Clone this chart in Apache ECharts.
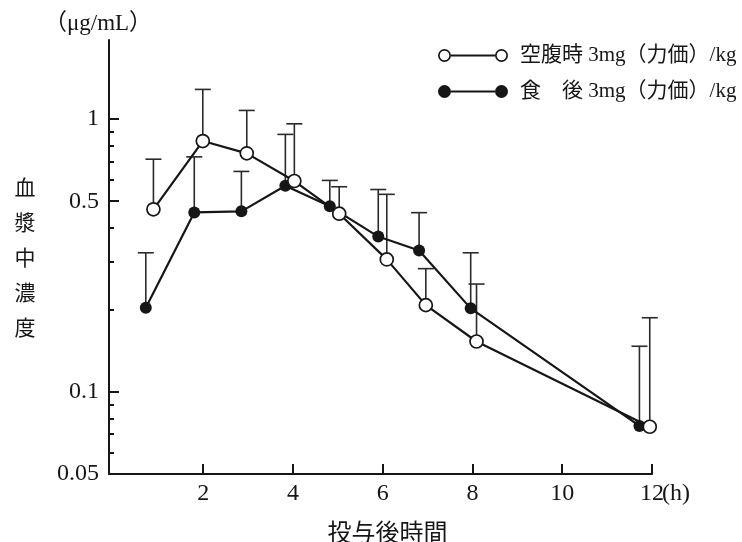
<!DOCTYPE html>
<html><head><meta charset="utf-8">
<script src="https://cdn.jsdelivr.net/npm/echarts@6/dist/echarts.min.js"></script>
<style>html,body{margin:0;padding:0;background:#fff}#c{width:742px;height:542px}</style>
</head><body><div id="c"></div>
<script>
// ---- data ----
const xTicks = [2, 4, 6, 8, 10, 12];
const yMajor = [0.05, 0.1, 0.5, 1];
const yMajorLabels = ['0.05', '0.1', '0.5', '1'];
const yMinor = [0.06, 0.07, 0.08, 0.09, 0.2, 0.3, 0.4, 0.6, 0.7, 0.8, 0.9];
const yMin = 0.05, yMax = 1.95, xMin = -0.1, xMax = 12;

const fastName = '空腹時 3mg（力価）/kg';
const fedName = '食\u3000後 3mg（力価）/kg';

const fastT  = [0.89, 1.99, 2.97, 4.03, 5.03, 6.09, 6.96, 8.09, 11.95];
const fastV  = [0.467, 0.831, 0.749, 0.593, 0.450, 0.306, 0.208, 0.153, 0.0745];
const fastUp = [0.713, 1.285, 1.076, 0.961, 0.565, 0.530, 0.283, 0.2485, 0.187];

const fedT  = [0.72, 1.80, 2.85, 3.83, 4.82, 5.90, 6.81, 7.96, 11.72];
const fedV  = [0.2035, 0.455, 0.459, 0.570, 0.479, 0.371, 0.330, 0.2024, 0.075];
const fedUp = [0.3236, 0.727, 0.643, 0.879, 0.596, 0.552, 0.454, 0.3236, 0.147];

// ---- build ----
const SERIF = "'Liberation Serif','Noto Sans CJK JP',serif";
const INK = '#161616';
const lg = Math.log10;

function pts(t, v) { return t.map((x, i) => [x, v[i]]); }
function errPts(t, v, u) { return t.map((x, i) => [x, v[i], u[i]]); }

function errRender(params, api) {
  const x = api.value(0), m = api.value(1), up = api.value(2);
  const p = api.coord([x, m]), q = api.coord([x, up]);
  const style = { stroke: '#2a2a2a', lineWidth: 1.6, fill: null };
  return { type: 'group', children: [
    { type: 'line', shape: { x1: p[0], y1: p[1], x2: q[0], y2: q[1] }, style: style },
    { type: 'line', shape: { x1: q[0] - 8, y1: q[1], x2: q[0] + 8, y2: q[1] }, style: style }
  ]};
}

const openIcon = 'path://M0,6.5A6.5,6.5,0,1,0,13,6.5A6.5,6.5,0,1,0,0,6.5Z' +
  'M1.7,6.5A4.8,4.8,0,1,1,11.3,6.5A4.8,4.8,0,1,1,1.7,6.5Z' +
  'M57,6.5A6.5,6.5,0,1,0,70,6.5A6.5,6.5,0,1,0,57,6.5Z' +
  'M58.7,6.5A4.8,4.8,0,1,1,68.3,6.5A4.8,4.8,0,1,1,58.7,6.5Z' +
  'M13,5.5L57,5.5L57,7.5L13,7.5Z';
const fillIcon = 'path://M0,6.5A6.5,6.5,0,1,0,13,6.5A6.5,6.5,0,1,0,0,6.5Z' +
  'M57,6.5A6.5,6.5,0,1,0,70,6.5A6.5,6.5,0,1,0,57,6.5Z' +
  'M13,5.5L57,5.5L57,7.5L13,7.5Z';

const chart = echarts.init(document.getElementById('c'), null, { renderer: 'canvas' });
chart.setOption({
  animation: false,
  backgroundColor: '#fff',
  grid: { left: 109, right: 90, top: 40, bottom: 68, outerBoundsMode: 'none', containLabel: false },
  legend: {
    orient: 'vertical', left: 438, top: 45, padding: 0, itemGap: 15,
    itemWidth: 70, itemHeight: 13, selectedMode: false,
    textStyle: { fontSize: 21, lineHeight: 20, color: INK, fontFamily: SERIF, padding: [0, 0, 0, 7] },
    data: [
      { name: fastName, icon: openIcon, itemStyle: { color: INK, borderWidth: 0 } },
      { name: fedName, icon: fillIcon, itemStyle: { color: INK, borderWidth: 0 } }
    ]
  },
  xAxis: [{
    type: 'value', min: xMin, max: xMax, position: 'bottom',
    name: '(h)', nameLocation: 'end', nameGap: 10, nameMoveOverlap: false,
    nameTextStyle: { fontSize: 24, color: INK, fontFamily: SERIF, align: 'left', verticalAlign: 'top', padding: [8, 0, 0, 0] },
    axisLine: { show: true, onZero: false, lineStyle: { color: INK, width: 2 } },
    axisTick: { show: true, inside: true, length: 10, customValues: xTicks, lineStyle: { color: INK, width: 2 } },
    axisLabel: { show: true, customValues: xTicks, margin: 8, fontSize: 24, color: INK, fontFamily: SERIF,
      formatter: v => String(v) },
    splitLine: { show: false }
  }, {
    type: 'value', min: xMin, max: xMax, position: 'bottom',
    name: '投与後時間', nameLocation: 'middle', nameGap: 46,
    nameTextStyle: { fontSize: 24, color: INK, fontFamily: "'Noto Sans CJK JP',sans-serif", padding: [0, 0, 0, 14] },
    axisLine: { show: false, onZero: false }, axisTick: { show: false }, axisLabel: { show: false }, splitLine: { show: false }
  }],
  yAxis: [{
    type: 'log', logBase: 10, min: yMin, max: yMax, position: 'left',
    name: '（μg/mL）', nameLocation: 'end', nameGap: 5,
    nameTextStyle: { fontSize: 23, color: INK, fontFamily: SERIF, align: 'center', padding: [0, 22, 0, 0] },
    axisLine: { show: true, onZero: false, lineStyle: { color: INK, width: 2 } },
    axisTick: { show: false }, axisLabel: { show: false }, splitLine: { show: false }, minorTick: { show: false }
  }, {
    type: 'value', min: lg(yMin), max: lg(yMax), position: 'left',
    axisLine: { show: false, onZero: false },
    axisTick: { show: true, inside: true, length: 10, customValues: yMajor.map(lg), lineStyle: { color: INK, width: 2 } },
    axisLabel: { show: true, customValues: yMajor.map(lg), margin: 10, fontSize: 24, color: INK, fontFamily: SERIF,
      formatter: v => {
        let best = 0;
        yMajor.forEach((m, i) => { if (Math.abs(lg(m) - v) < Math.abs(lg(yMajor[best]) - v)) best = i; });
        return yMajorLabels[best];
      } },
    splitLine: { show: false }
  }, {
    type: 'value', min: lg(yMin), max: lg(yMax), position: 'left',
    name: '血\n漿\n中\n濃\n度', nameLocation: 'middle', nameGap: 84, nameRotate: 0,
    nameTextStyle: { fontSize: 21, lineHeight: 35, color: INK, fontFamily: "'Noto Sans CJK JP',sans-serif", align: 'center', verticalAlign: 'middle', padding: [8, 0, 0, 0] },
    axisLine: { show: false, onZero: false },
    axisTick: { show: true, inside: true, length: 5, customValues: yMinor.map(lg), lineStyle: { color: INK, width: 2 } },
    axisLabel: { show: false }, splitLine: { show: false }
  }],
  series: [
    { name: 'fedErr', type: 'custom', xAxisIndex: 0, yAxisIndex: 0, renderItem: errRender,
      encode: { x: 0, y: [1, 2] }, data: errPts(fedT, fedV, fedUp), z: 1, silent: true },
    { name: 'fastErr', type: 'custom', xAxisIndex: 0, yAxisIndex: 0, renderItem: errRender,
      encode: { x: 0, y: [1, 2] }, data: errPts(fastT, fastV, fastUp), z: 1, silent: true },
    { name: fedName, type: 'line', xAxisIndex: 0, yAxisIndex: 0, data: pts(fedT, fedV),
      symbol: 'circle', symbolSize: 12, showAllSymbol: true,
      lineStyle: { color: INK, width: 2.2 }, itemStyle: { color: INK, borderColor: INK, borderWidth: 0 }, z: 3 },
    { name: fastName, type: 'line', xAxisIndex: 0, yAxisIndex: 0, data: pts(fastT, fastV),
      symbol: 'circle', symbolSize: 13, showAllSymbol: true,
      lineStyle: { color: INK, width: 2.2 }, itemStyle: { color: '#fff', borderColor: INK, borderWidth: 1.7 }, z: 4 }
  ]
});
</script></body></html>
